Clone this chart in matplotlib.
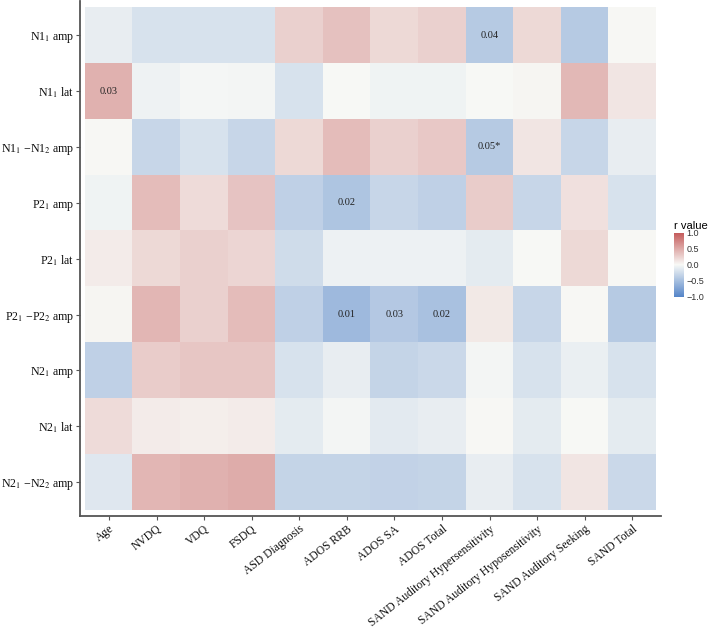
import numpy as np
import matplotlib.pyplot as plt
from matplotlib.colors import LinearSegmentedColormap

# datos
col_labels = ['Age', 'NVDQ', 'VDQ', 'FSDQ', 'ASD Diagnosis', 'ADOS RRB', 'ADOS SA',
              'ADOS Total', 'SAND Auditory Hypersensitivity',
              'SAND Auditory Hyposensitivity', 'SAND Auditory Seeking', 'SAND Total']
row_labels = ['N1$_1$ amp', 'N1$_1$ lat', 'N1$_1$ \u2212N1$_2$ amp', 'P2$_1$ amp',
              'P2$_1$ lat', 'P2$_1$ \u2212P2$_2$ amp', 'N2$_1$ amp', 'N2$_1$ lat',
              'N2$_1$ \u2212N2$_2$ amp']

r_n1_amp = [-0.10, -0.20, -0.20, -0.20, 0.25, 0.35, 0.20, 0.25, -0.40, 0.20, -0.40, 0.01]
r_n1_lat = [0.45, -0.06, -0.02, -0.03, -0.20, 0.00, -0.05, -0.05, 0.00, 0.02, 0.40, 0.12]
r_n1_diff = [0.01, -0.30, -0.20, -0.30, 0.20, 0.38, 0.25, 0.30, -0.40, 0.12, -0.30, -0.10]
r_p2_amp = [-0.05, 0.38, 0.18, 0.33, -0.35, -0.45, -0.30, -0.35, 0.28, -0.30, 0.15, -0.20]
r_p2_lat = [0.08, 0.20, 0.25, 0.22, -0.25, -0.07, -0.07, -0.07, -0.12, 0.00, 0.20, 0.01]
r_p2_diff = [0.02, 0.42, 0.25, 0.38, -0.35, -0.55, -0.42, -0.48, 0.10, -0.30, 0.01, -0.40]
r_n2_amp = [-0.35, 0.28, 0.32, 0.32, -0.20, -0.10, -0.32, -0.28, -0.03, -0.20, -0.08, -0.20]
r_n2_lat = [0.18, 0.08, 0.07, 0.08, -0.12, -0.03, -0.13, -0.10, 0.01, -0.12, 0.00, -0.12]
r_n2_diff = [-0.15, 0.42, 0.45, 0.48, -0.32, -0.32, -0.33, -0.32, -0.10, -0.20, 0.12, -0.28]

# p valores mostrados (fila, columna, texto)
p_rows = [0, 1, 2, 3, 5, 5, 5]
p_cols = [8, 0, 8, 5, 5, 6, 7]
p_text = ['0.04', '0.03', '0.05*', '0.02', '0.01', '0.03', '0.02']

R = np.array([r_n1_amp, r_n1_lat, r_n1_diff, r_p2_amp, r_p2_lat, r_p2_diff,
              r_n2_amp, r_n2_lat, r_n2_diff])

plt.rcParams['mathtext.fontset'] = 'stix'

cmap = LinearSegmentedColormap.from_list('rb', ['#5686c9', '#f8f9f6', '#c45a5a'])

fig = plt.figure(figsize=(7.08, 6.34), dpi=100)
ax = fig.add_axes([0.113, 0.186, 0.821, 0.812])

im = ax.imshow(R, cmap=cmap, vmin=-1, vmax=1, aspect='auto',
               extent=(-0.5, 11.5, 8.5, -0.5))
ax.set_xlim(-0.61, 11.61)
ax.set_ylim(8.61, -0.61)

for i in range(len(p_text)):
    ax.text(p_cols[i], p_rows[i], p_text[i], ha='center', va='center',
            fontsize=7.5, family='Liberation Serif', color='#222222')

ax.set_xticks(range(len(col_labels)))
ax.set_xticklabels(col_labels, rotation=38, ha='right', rotation_mode='anchor',
                   family='Liberation Serif', fontsize=8.4, color='#111111')
ax.set_yticks(range(len(row_labels)))
ax.set_yticklabels(row_labels, family='Liberation Serif', fontsize=8.6, color='#111111')
ax.tick_params(length=3, color='#555555', width=0.8)
ax.tick_params(axis='y', pad=1)
ax.tick_params(axis='x', pad=2)

for s in ['top', 'right']:
    ax.spines[s].set_visible(False)
for s in ['left', 'bottom']:
    ax.spines[s].set_color('#555555')
    ax.spines[s].set_linewidth(1.3)

cax = fig.add_axes([0.952, 0.532, 0.0141, 0.101])
cb = fig.colorbar(im, cax=cax, ticks=[-1.0, -0.5, 0.0, 0.5, 1.0])
cb.outline.set_visible(False)
cb.ax.tick_params(length=0, labelsize=6.5, colors='#333333', pad=2)
cb.ax.set_yticklabels(['\u22121.0', '\u22120.5', '0.0', '0.5', '1.0'],
                      family='Liberation Sans')
cax.set_title('r value', fontsize=8, loc='left', pad=3, x=-0.05,
              family='Liberation Sans')

fig.savefig('out.png', dpi=100)
